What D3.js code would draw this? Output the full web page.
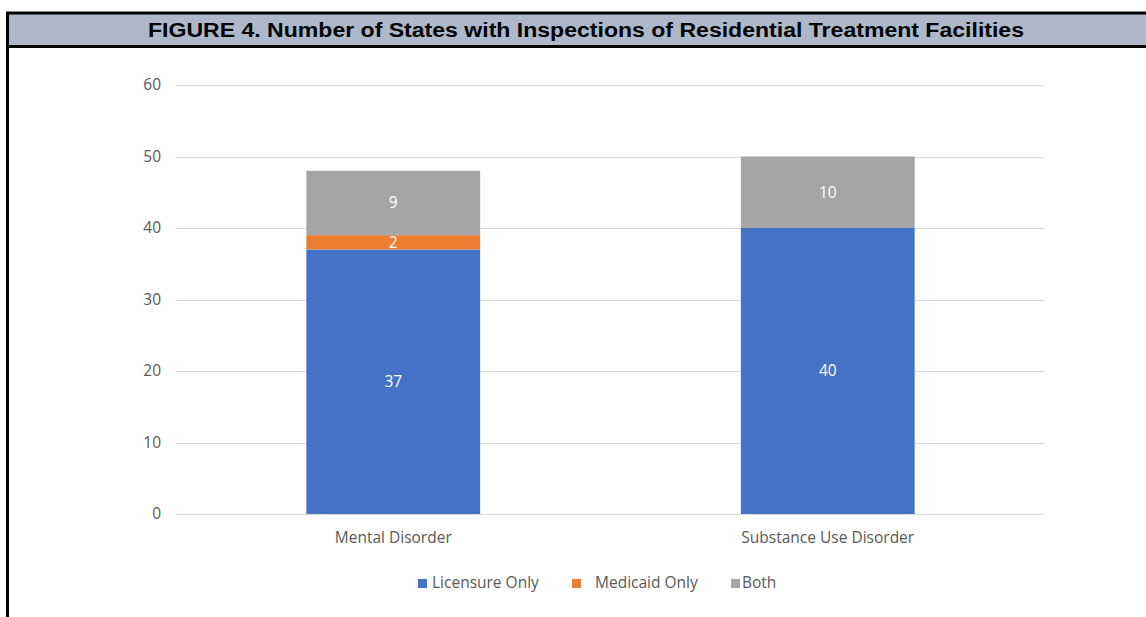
<!DOCTYPE html>
<html>
<head>
<meta charset="utf-8">
<script src="https://cdn.jsdelivr.net/npm/d3@7"></script>
<style>
  html, body { margin: 0; padding: 0; background: #fff; }
  svg { display: block; }
</style>
</head>
<body>
<svg id="chart" width="1146" height="617"></svg>
<script>
// Inspection categories and counts per facility type
const categories = ["Mental Disorder", "Substance Use Disorder"];
const seriesNames = ["Licensure Only", "Medicaid Only", "Both"];
const licensureOnly = [37, 40];
const medicaidOnly = [2, 0];
const both = [9, 10];
const yTicks = [0, 10, 20, 30, 40, 50, 60];
const titleText = "FIGURE 4. Number of States with Inspections of Residential Treatment Facilities";

const colors = ["#4472C4", "#ED7D31", "#A5A5A5"];
const fontFamily = "'Open Sans', 'Noto Sans', sans-serif";
const fontSize = 15.5;
const textGrey = "#595959";

const svg = d3.select("#chart");

// Frame and title band
svg.append("rect").attr("x", 8).attr("y", 14).attr("width", 1146).attr("height", 32)
  .attr("fill", "#ADB9CA");
svg.append("line").attr("x1", 6).attr("x2", 1146).attr("y1", 13).attr("y2", 13)
  .attr("stroke", "#000").attr("stroke-width", 3);
svg.append("line").attr("x1", 6).attr("x2", 1146).attr("y1", 46.5).attr("y2", 46.5)
  .attr("stroke", "#000").attr("stroke-width", 3);
svg.append("line").attr("x1", 7.5).attr("x2", 7.5).attr("y1", 12).attr("y2", 617)
  .attr("stroke", "#000").attr("stroke-width", 3);
svg.append("text").attr("x", 586).attr("y", 37).attr("text-anchor", "middle")
  .attr("font-family", "'Liberation Sans', Arial, sans-serif")
  .attr("font-weight", "bold").attr("font-size", 20).attr("fill", "#000")
  .attr("textLength", 876).attr("lengthAdjust", "spacingAndGlyphs")
  .text(titleText);

// Plot area
const margin = { left: 176, right: 1045, top: 85, bottom: 514 };
const x = d3.scaleBand().domain(categories).range([margin.left, margin.right])
  .paddingInner(0.6).paddingOuter(0.3);
const y = d3.scaleLinear().domain([0, 60]).range([margin.bottom, margin.top]);

// Gridlines
const grid = svg.append("g");
grid.selectAll("line").data(yTicks).join("line")
  .attr("x1", margin.left).attr("x2", margin.right)
  .attr("y1", d => Math.round(y(d)) + 0.5).attr("y2", d => Math.round(y(d)) + 0.5)
  .attr("stroke", "#D9D9D9").attr("stroke-width", 1);

// Y axis labels
const yAxis = d3.axisLeft(y).tickValues(yTicks).tickSize(0).tickPadding(0);
const yg = svg.append("g").attr("transform", `translate(${margin.left - 15},0)`).call(yAxis);
yg.select(".domain").remove();
yg.selectAll("text").attr("font-family", fontFamily).attr("font-size", fontSize)
  .attr("fill", textGrey);

// Stacked bars
const rows = categories.map((c, i) => ({
  category: c,
  "Licensure Only": licensureOnly[i],
  "Medicaid Only": medicaidOnly[i],
  "Both": both[i]
}));
const stacked = d3.stack().keys(seriesNames)(rows);

const layers = svg.append("g").selectAll("g").data(stacked).join("g")
  .attr("fill", (d, i) => colors[i]);
layers.selectAll("rect").data(d => d.filter(s => s[1] - s[0] > 0)).join("rect")
  .attr("x", d => x(d.data.category))
  .attr("width", x.bandwidth())
  .attr("y", d => y(d[1]))
  .attr("height", d => y(d[0]) - y(d[1]));

// Value labels inside segments
const labels = svg.append("g");
stacked.forEach(layer => {
  layer.forEach(s => {
    const v = s[1] - s[0];
    if (v <= 0) return;
    labels.append("text")
      .attr("x", x(s.data.category) + x.bandwidth() / 2)
      .attr("y", (y(s[0]) + y(s[1])) / 2)
      .attr("dy", "0.35em")
      .attr("text-anchor", "middle")
      .attr("font-family", fontFamily).attr("font-size", fontSize)
      .attr("fill", "#FFFFFF")
      .text(v);
  });
});

// X axis category labels
const xAxis = d3.axisBottom(x).tickSize(0).tickPadding(0);
const xg = svg.append("g").attr("transform", `translate(0,${margin.bottom + 24})`).call(xAxis);
xg.select(".domain").remove();
xg.selectAll("text").attr("font-family", fontFamily).attr("font-size", fontSize)
  .attr("fill", textGrey).attr("dy", "0.35em");

// Legend
const legendItems = [
  { name: seriesNames[0], color: colors[0], sx: 418, tx: 432 },
  { name: seriesNames[1], color: colors[1], sx: 572, tx: 595 },
  { name: seriesNames[2], color: colors[2], sx: 731, tx: 742 }
];
const legend = svg.append("g");
const li = legend.selectAll("g").data(legendItems).join("g");
li.append("rect").attr("x", d => d.sx).attr("y", 579).attr("width", 9).attr("height", 9)
  .attr("fill", d => d.color);
li.append("text").attr("x", d => d.tx).attr("y", 583).attr("dy", "0.35em")
  .attr("font-family", fontFamily).attr("font-size", fontSize).attr("fill", textGrey)
  .text(d => d.name);
</script>
</body>
</html>
